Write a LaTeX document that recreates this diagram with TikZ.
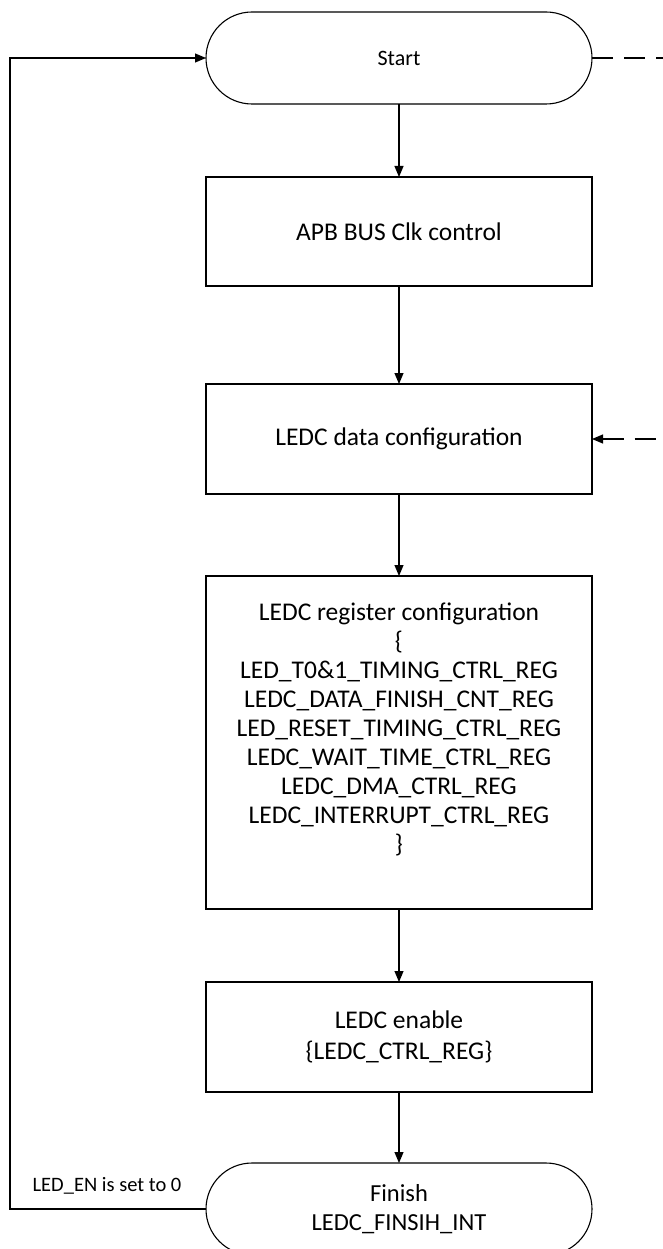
\documentclass[tikz,border=0pt]{standalone}
\usepackage{fontspec}
\setmainfont{Carlito}
\usetikzlibrary{shapes.misc,arrows.meta}

\begin{document}
\begin{tikzpicture}[x=1pt,y=-1pt,line join=miter,
  every node/.style={inner sep=0pt,outer sep=0pt},
  stepbox/.style={draw,line width=1.1pt,minimum width=386pt,align=center,font=\fontsize{25.5}{29}\selectfont},
  terminal/.style={draw,rounded rectangle,line width=1.1pt,minimum width=386pt,minimum height=92pt,align=center},
  flow/.style={line width=1.1pt,-{Triangle[length=11pt,width=9pt]}},
  dashflow/.style={line width=1.1pt,dash pattern=on 21pt off 11pt}]
  \useasboundingbox (0,0) rectangle (663,1249);
  \node[terminal,font=\fontsize{22}{25}\selectfont] (start) at (399,58) {Start};
  \node[stepbox,minimum height=109pt] (apb) at (399,231.5) {APB BUS Clk control};
  \node[stepbox,minimum height=110pt] (data) at (399,439) {LEDC data configuration};
  \node[stepbox,minimum height=333pt] (reg) at (399,742.5) {LEDC register configuration\\
    \{\\
    LED\_T0\&1\_TIMING\_CTRL\_REG\\
    LEDC\_DATA\_FINISH\_CNT\_REG\\
    LED\_RESET\_TIMING\_CTRL\_REG\\
    LEDC\_WAIT\_TIME\_CTRL\_REG\\
    LEDC\_DMA\_CTRL\_REG\\
    LEDC\_INTERRUPT\_CTRL\_REG\\
    \}\\
    ~};
  \node[stepbox,minimum height=110pt,font=\fontsize{25.5}{30.5}\selectfont] (enable) at (399,1037) {LEDC enable\\\{LEDC\_CTRL\_REG\}};
  \node[terminal,font=\fontsize{24.5}{28.3}\selectfont] (finish) at (399,1209) {Finish\\LEDC\_FINSIH\_INT};
  \node[font=\fontsize{20.5}{25}\selectfont] (enlabel) at (107,1186) {LED\_EN is set to 0};
  \coordinate (lb) at (10,1209);
  \coordinate (lt) at (10,58);
  \coordinate (dtop) at (663,58);
  \coordinate (dmid) at (663,439);
  \draw[flow] (start) -- (apb);
  \draw[flow] (apb) -- (data);
  \draw[flow] (data) -- (reg);
  \draw[flow] (reg) -- (enable);
  \draw[flow] (enable) -- (finish);
  \draw[flow] (finish.west) -- (lb) -- (lt) -- (start.west);
  \draw[dashflow] (start.east) -- (dtop);
  \draw[dashflow,{Triangle[length=11pt,width=9pt]}-] (data.east) -- (dmid);
\end{tikzpicture}
\end{document}
